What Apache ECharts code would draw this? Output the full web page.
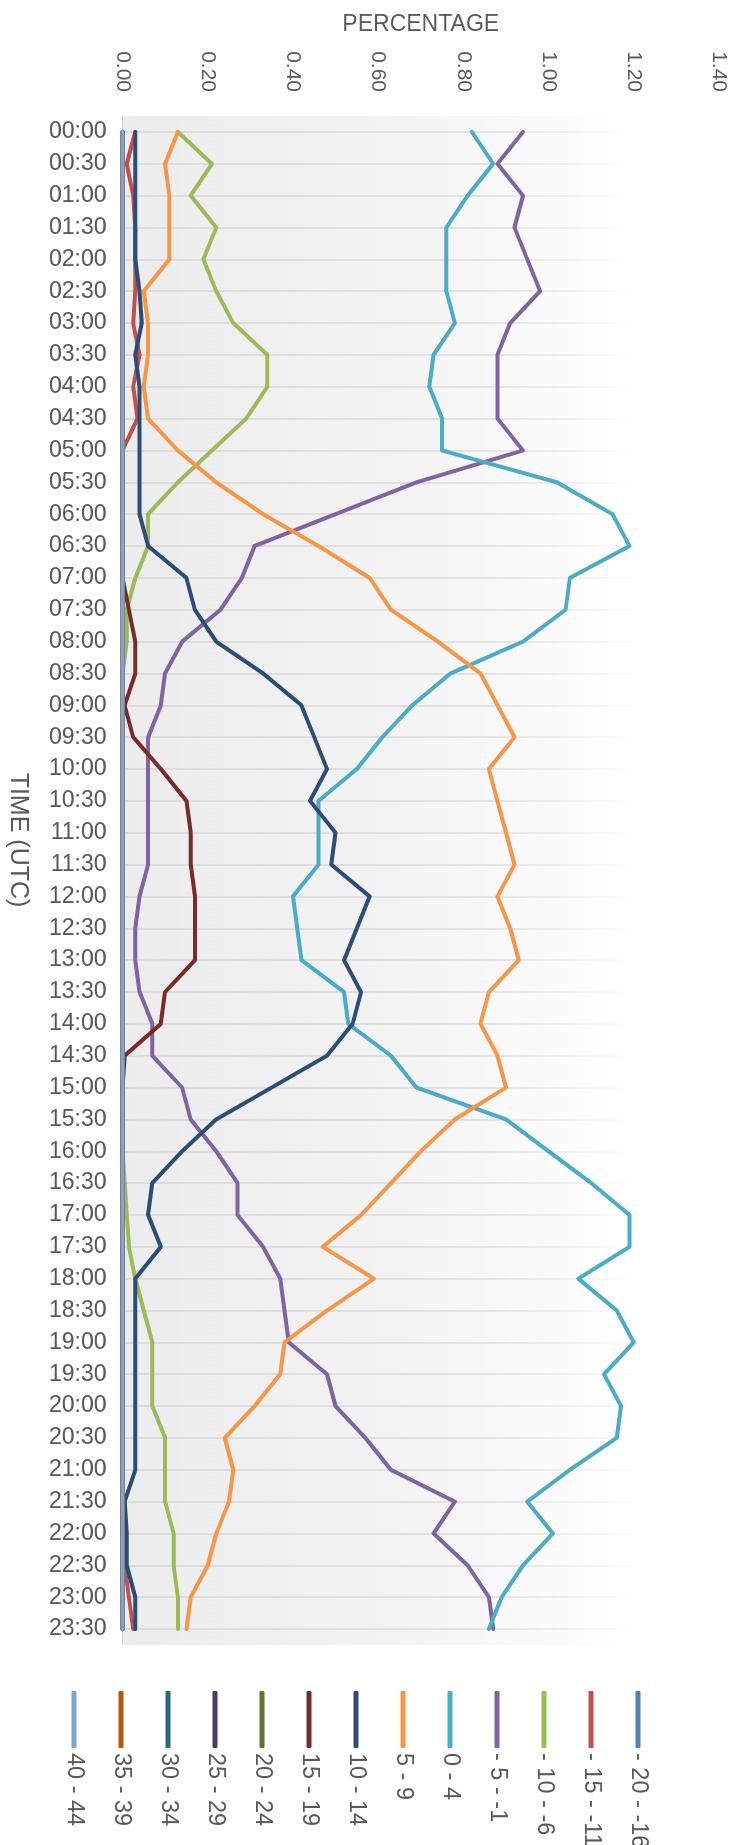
<!DOCTYPE html>
<html>
<head>
<meta charset="utf-8">
<script src="https://cdn.jsdelivr.net/npm/echarts@6/dist/echarts.min.js"></script>
<style>
  html, body { margin: 0; padding: 0; background: #ffffff; width: 735px; height: 1845px; overflow: hidden; }
  #chart { position: absolute; left: 0; top: 0; width: 1845px; height: 735px;
           transform-origin: 0 0; transform: translate(735px, 0) rotate(90deg); }
</style>
</head>
<body>
<div id="chart"></div>
<script>
// ---- data ----
const times = ['00:00','00:30','01:00','01:30','02:00','02:30','03:00','03:30','04:00','04:30','05:00','05:30',
               '06:00','06:30','07:00','07:30','08:00','08:30','09:00','09:30','10:00','10:30','11:00','11:30',
               '12:00','12:30','13:00','13:30','14:00','14:30','15:00','15:30','16:00','16:30','17:00','17:30',
               '18:00','18:30','19:00','19:30','20:00','20:30','21:00','21:30','22:00','22:30','23:00','23:30'];

const seriesNames = ['- 20 - -16','- 15 - -11','- 10 - -6','- 5 - -1','0 - 4','5 - 9',
                     '10 - 14','15 - 19','20 - 24','25 - 29','30 - 34','35 - 39','40 - 44'];

const valueTicks = [0, 0.2, 0.4, 0.6, 0.8, 1.0, 1.2, 1.4];

const sM20 = [0,0,0,0,0,0,0,0,0,0,0,0, 0,0,0,0,0,0,0,0,0,0,0,0, 0,0,0,0,0,0,0,0,0,0,0,0, 0,0,0,0,0,0,0,0,0,0,0,0];
const sM15 = [0.03,0.01,0.025,0.03,0.03,0.03,0.025,0.04,0.025,0.035,0,0,
              0,0,0,0,0,0,0,0,0,0,0,0,
              0,0,0,0,0,0,0,0,0,0,0,0,
              0,0,0,0,0,0,0,0,0,0.005,0.015,0.025];
const sM10 = [0.13,0.21,0.16,0.22,0.19,0.22,0.26,0.34,0.34,0.29,0.21,0.13,
              0.06,0.06,0.03,0.01,0.01,0,0,0,0,0,0,0,
              0,0,0,0,0,0,0,0,0,0.005,0.01,0.015,
              0.03,0.05,0.07,0.07,0.07,0.10,0.10,0.10,0.12,0.12,0.13,0.13];
const sM5  = [0.94,0.88,0.94,0.92,0.95,0.98,0.91,0.88,0.88,0.88,0.94,0.69,
              0.50,0.31,0.28,0.23,0.14,0.10,0.09,0.06,0.06,0.06,0.06,0.06,
              0.04,0.03,0.03,0.04,0.07,0.07,0.14,0.16,0.22,0.27,0.27,0.33,
              0.37,0.38,0.39,0.48,0.50,0.57,0.63,0.78,0.73,0.81,0.86,0.87];
const s0   = [0.82,0.87,0.81,0.76,0.76,0.76,0.78,0.73,0.72,0.75,0.75,1.02,
              1.15,1.19,1.05,1.04,0.94,0.77,0.68,0.61,0.55,0.46,0.46,0.46,
              0.40,0.41,0.42,0.52,0.53,0.63,0.69,0.90,1.00,1.10,1.19,1.19,
              1.07,1.16,1.20,1.13,1.17,1.16,1.05,0.95,1.01,0.94,0.89,0.86];
const s5   = [0.13,0.10,0.11,0.11,0.11,0.05,0.06,0.06,0.05,0.06,0.13,0.22,
              0.33,0.46,0.58,0.63,0.74,0.84,0.88,0.92,0.86,0.88,0.90,0.92,
              0.88,0.91,0.93,0.86,0.84,0.88,0.90,0.78,0.70,0.63,0.56,0.47,
              0.59,0.48,0.38,0.37,0.31,0.24,0.26,0.25,0.22,0.20,0.16,0.15];
const s10  = [0.03,0.03,0.03,0.03,0.03,0.04,0.045,0.03,0.04,0.04,0.04,0.04,
              0.04,0.06,0.15,0.17,0.22,0.33,0.42,0.45,0.48,0.44,0.50,0.49,
              0.58,0.55,0.52,0.56,0.54,0.48,0.35,0.22,0.14,0.07,0.06,0.09,
              0.03,0.03,0.03,0.03,0.03,0.03,0.03,0.005,0.01,0.01,0.03,0.03];
const s15  = [0,0,0,0,0,0,0,0,0,0,0,0,
              0,0,0,0.015,0.03,0.03,0.005,0.025,0.09,0.15,0.16,0.16,
              0.17,0.17,0.17,0.10,0.09,0.005,0,0,0,0,0,0,
              0,0,0,0,0,0,0,0,0,0,0,0];
const s20  = [0,0,0,0,0,0,0,0,0,0,0,0, 0,0,0,0,0,0,0,0,0,0,0,0, 0,0,0,0,0,0,0,0,0,0,0,0, 0,0,0,0,0,0,0,0,0,0,0,0];
const s25  = [0,0,0,0,0,0,0,0,0,0,0,0, 0,0,0,0,0,0,0,0,0,0,0,0, 0,0,0,0,0,0,0,0,0,0,0,0, 0,0,0,0,0,0,0,0,0,0,0,0];
const s30  = [0,0,0,0,0,0,0,0,0,0,0,0, 0,0,0,0,0,0,0,0,0,0,0,0, 0,0,0,0,0,0,0,0,0,0,0,0, 0,0,0,0,0,0,0,0,0,0,0,0];
const s35  = [0,0,0,0,0,0,0,0,0,0,0,0, 0,0,0,0,0,0,0,0,0,0,0,0, 0,0,0,0,0,0,0,0,0,0,0,0, 0,0,0,0,0,0,0,0,0,0,0,0];
const s40  = [0,0,0,0,0,0,0,0,0,0,0,0, 0,0,0,0,0,0,0,0,0,0,0,0, 0,0,0,0,0,0,0,0,0,0,0,0, 0,0,0,0,0,0,0,0,0,0,0,0];

const seriesValues = [sM20, sM15, sM10, sM5, s0, s5, s10, s15, s20, s25, s30, s35, s40];
const seriesColors = ['#4F81BD','#C0504D','#9BBB59','#8064A2','#4BACC6','#F79646',
                      '#2C4D75','#772C2A','#5F7530','#4D3B62','#276A7C','#B65708','#7EA3D6'];

// ---- chart (drawn landscape, the page turns it 90deg clockwise) ----
const REG = '"Liberation Sans", Arial, sans-serif';
const TXT = '#595959';
const chart = echarts.init(document.getElementById('chart'), null, { renderer: 'canvas' });

const option = {
  animation: false,
  color: seriesColors,
  grid: {
    left: 116, right: 200, top: 16, bottom: 122.5,
    show: true, borderWidth: 0,
    backgroundColor: {
      type: 'linear', x: 0, y: 613, x2: 0, y2: 16, global: true,
      colorStops: [
        { offset: 0, color: '#ececec' },
        { offset: 0.45, color: '#f3f3f3' },
        { offset: 0.7, color: '#fafafa' },
        { offset: 0.85, color: '#ffffff' },
        { offset: 1, color: '#ffffff' }
      ]
    }
  },
  legend: {
    orient: 'vertical',
    left: 1686, top: 80,
    itemGap: 23, itemWidth: 57, itemHeight: 5,
    icon: 'roundRect',
    selectedMode: false,
    data: seriesNames,
    textStyle: { color: TXT, fontSize: 23.5, lineHeight: 24, fontFamily: REG }
  },
  xAxis: {
    type: 'category',
    data: times,
    boundaryGap: true,
    name: 'TIME (UTC)',
    nameLocation: 'middle',
    nameGap: 92,
    nameTextStyle: { color: TXT, fontSize: 25, fontFamily: REG, padding: [0, 81, 0, 0] },
    axisLine: { show: true, lineStyle: { color: '#d0d0d0', width: 1 } },
    axisTick: { show: false },
    axisLabel: { interval: 0, rotate: 90, margin: 16, color: TXT, fontSize: 23, fontFamily: REG },
    splitLine: {
      show: true, interval: 0, alignWithLabel: true,
      lineStyle: {
        width: 1.5,
        color: {
          type: 'linear', x: 0, y: 613, x2: 0, y2: 16, global: true,
          colorStops: [
            { offset: 0, color: '#d6d6d6' },
            { offset: 0.6, color: '#dadada' },
            { offset: 0.78, color: '#f0f0f0' },
            { offset: 0.9, color: 'rgba(255,255,255,0)' },
            { offset: 1, color: 'rgba(255,255,255,0)' }
          ]
        }
      }
    }
  },
  yAxis: {
    type: 'value',
    min: valueTicks[0], max: valueTicks[valueTicks.length - 1],
    interval: valueTicks[1] - valueTicks[0],
    name: 'PERCENTAGE',
    nameLocation: 'middle',
    nameRotate: 90,
    nameGap: 80,
    nameTextStyle: { color: TXT, fontSize: 23, fontFamily: REG },
    axisLine: { show: false },
    axisTick: { show: false },
    splitLine: { show: false },
    axisLabel: {
      margin: 24, color: TXT, fontSize: 21, fontFamily: REG,
      formatter: v => v.toFixed(2)
    }
  },
  series: seriesNames.map((name, i) => ({
    name: name,
    type: 'line',
    data: seriesValues[i],
    symbol: 'none',
    showSymbol: false,
    lineStyle: { width: 4, color: seriesColors[i], join: 'round', cap: 'round' },
    itemStyle: { color: seriesColors[i] }
  }))
};
chart.setOption(option);
</script>
</body>
</html>
